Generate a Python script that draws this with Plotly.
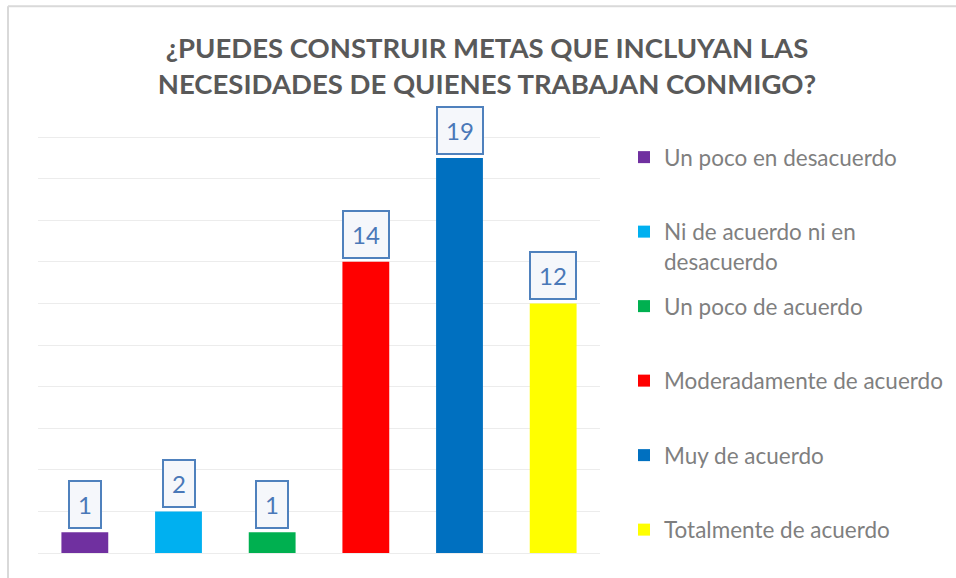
import plotly.graph_objects as go

# ── Data ──
categories = [
    "Un poco en desacuerdo",
    "Ni de acuerdo ni en desacuerdo",
    "Un poco de acuerdo",
    "Moderadamente de acuerdo",
    "Muy de acuerdo",
    "Totalmente de acuerdo",
]
legend_labels = [
    "Un poco en desacuerdo",
    "Ni de acuerdo ni en<br>desacuerdo",
    "Un poco de acuerdo",
    "Moderadamente de acuerdo",
    "Muy de acuerdo",
    "Totalmente de acuerdo",
]
values = [1, 2, 1, 14, 19, 12]
colors = ["#7030a0", "#00b0f0", "#00b050", "#ff0000", "#0070c0", "#ffff00"]

TITLE = "¿PUEDES CONSTRUIR METAS QUE INCLUYAN LAS<br>NECESIDADES DE QUIENES TRABAJAN CONMIGO?"
FONT = "Lato, 'Open Sans', sans-serif"
LABEL_BLUE = "#4f81bd"
FRAME = "#d9d9d9"

fig = go.Figure()

n = len(categories)
for i, (cat, lab, val, col) in enumerate(zip(categories, legend_labels, values, colors)):
    # pad entries to two lines so items are evenly spaced (last one needs no pad)
    name = lab if ("<br>" in lab or i == n - 1) else lab + "<br>\u00a0"
    fig.add_trace(go.Bar(
        x=[cat], y=[val],
        name=name,
        legendgroup=cat,
        marker=dict(color=col, line=dict(width=0)),
        hoverinfo="x+y",
    ))
    fig.add_annotation(
        x=cat, y=val,
        text=str(val),
        showarrow=False,
        yanchor="bottom",
        yshift=3,
        font=dict(family=FONT, size=24, color="#4a78b8"),
        bgcolor="#f5f7fb",
        bordercolor=LABEL_BLUE,
        borderwidth=2,
        borderpad=8,
    )

fig.update_layout(
    width=956,
    height=578,
    title=dict(
        text=TITLE,
        font=dict(family=FONT, size=27.5, color="#595959", weight="bold"),
        x=487 / 956, xanchor="center", xref="container",
        y=1 - 58 / 578, yanchor="top", yref="container",
    ),
    plot_bgcolor="white",
    paper_bgcolor="white",
    bargap=0.5,
    showlegend=True,
    legend=dict(
        xref="container", yref="container",
        x=624 / 956, xanchor="left",
        y=1 - 136 / 578, yanchor="top",
        font=dict(family=FONT, size=22.5, color="#7f7f7f"),
        valign="top",
        tracegroupgap=13,
        itemwidth=30,
        maxheight=560,
    ),
    margin=dict(l=38, r=356, t=135, b=25),
    shapes=[
        # chart frame (only top/left edges show in the crop)
        dict(type="line", xref="paper", yref="paper", x0=-0.0534, x1=1.64, y0=1.308, y1=1.308,
             line=dict(color=FRAME, width=2)),
        dict(type="line", xref="paper", yref="paper", x0=-0.0534, x1=-0.0534, y0=-0.07, y1=1.308,
             line=dict(color=FRAME, width=2)),
    ],
)

fig.update_xaxes(showticklabels=False, showgrid=False, zeroline=False, showline=False, ticks="")
fig.update_yaxes(
    range=[0, 20.1], dtick=2,
    showticklabels=False, showgrid=True, gridcolor="#ececec", gridwidth=1,
    zeroline=True, zerolinecolor="#ececec", zerolinewidth=1, ticks="",
)

fig.write_html(
    "out.html",
    config={"displayModeBar": False},
    post_script="document.body.style.margin='0';",
)
